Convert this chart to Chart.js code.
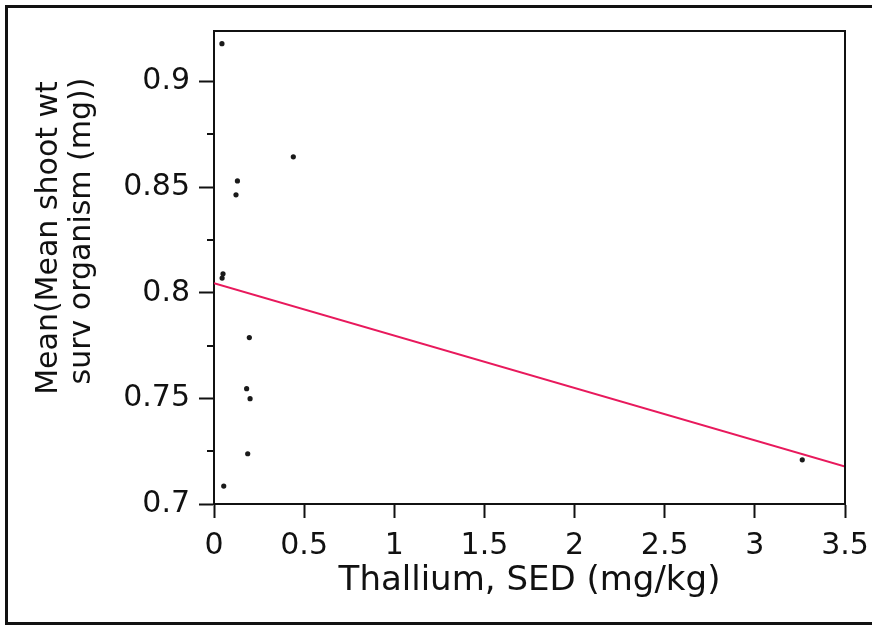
<!DOCTYPE html>
<html>
<head>
<meta charset="utf-8">
<script src="https://cdn.jsdelivr.net/npm/chart.js@4.4.1/dist/chart.umd.min.js"></script>
<style>
  body { margin: 0; background: #fff; }
  #frame { position: absolute; left: 5px; top: 5px; width: 870px; height: 614px;
           border-left: 3px solid #111; border-top: 3px solid #111; border-bottom: 3px solid #111; }
  #wrap { position: absolute; left: 0; top: 0; width: 872px; height: 627px; }
</style>
</head>
<body>
<div id="frame"></div>
<div id="wrap"><canvas id="scatterChart" width="872" height="627"></canvas></div>
<script>
// thallium in sediment vs mean shoot weight
const thallium = [0.044, 0.13, 0.122, 0.44, 0.045, 0.05, 0.196, 0.181, 0.2, 0.187, 0.054, 3.263];
const shootWt  = [0.918, 0.853, 0.8464, 0.8644, 0.807, 0.809, 0.7788, 0.7546, 0.7499, 0.7238, 0.7085, 0.7209];

// fitted line end points
const fitX = [0, 3.5];
const fitY = [0.8046, 0.7177];

const xTicks = [0, 0.5, 1, 1.5, 2, 2.5, 3, 3.5];
const yTicks = [0.7, 0.75, 0.8, 0.85, 0.9];
const yMinorTicks = [0.725, 0.775, 0.825, 0.875];

const yTitle = ['Mean(Mean shoot wt', 'surv organism (mg))'];
const xTitle = 'Thallium, SED (mg/kg)';

var points = [];
for (let i = 0; i < thallium.length; i++) {
    points.push({x: thallium[i], y: shootWt[i]});
}
var fitLine = [];
for (let i = 0; i < fitX.length; i++) {
    fitLine.push({x: fitX[i], y: fitY[i]});
}

const fontFam = '"DejaVu Sans", sans-serif';

// box round the plot, minor y ticks, y title
const extras = {
    id: 'extras',
    afterDraw(chart) {
        const ctx = chart.ctx;
        const a = chart.chartArea;
        const y = chart.scales.y;
        ctx.save();
        ctx.strokeStyle = '#111';
        ctx.lineWidth = 2;
        ctx.beginPath();
        ctx.moveTo(a.left, a.top);
        ctx.lineTo(a.right, a.top);
        ctx.lineTo(a.right, a.bottom);
        ctx.stroke();
        ctx.beginPath();
        yMinorTicks.forEach(v => {
            const py = Math.round(y.getPixelForValue(v));
            ctx.moveTo(a.left - 7, py);
            ctx.lineTo(a.left, py);
        });
        ctx.stroke();

        ctx.fillStyle = '#111';
        ctx.font = '30px ' + fontFam;
        ctx.textAlign = 'center';
        ctx.textBaseline = 'alphabetic';
        ctx.rotate(-Math.PI / 2);
        ctx.fillText(yTitle[0], -238, 57);
        ctx.fillText(yTitle[1], -231, 90);
        ctx.restore();
    }
};

const ctx2 = document.getElementById('scatterChart').getContext('2d');

const myChart = new Chart(ctx2, {
    type: 'scatter',
    data: {
        datasets: [{
            label: 'data',
            data: points,
            backgroundColor: '#1a1a1a',
            borderColor: '#1a1a1a',
            pointRadius: 2.6,
            pointBorderWidth: 0
        }, {
            label: 'fit',
            type: 'line',
            data: fitLine,
            borderColor: '#e8195c',
            borderWidth: 2,
            pointRadius: 0,
            fill: false
        }]
    },
    options: {
        responsive: false,
        animation: false,
        layout: { padding: { left: 0, top: 31, right: 27, bottom: 0 } },
        plugins: {
            legend: { display: false },
            tooltip: { enabled: false }
        },
        scales: {
            x: {
                type: 'linear',
                min: 0,
                max: 3.5,
                afterBuildTicks: s => { s.ticks = xTicks.map(v => ({value: v})); },
                afterFit: s => { s.height = 123; s.paddingLeft = 0; s.paddingRight = 0; },
                ticks: {
                    color: '#111',
                    padding: 10,
                    maxRotation: 0,
                    font: { family: fontFam, size: 30 },
                    callback: v => String(v)
                },
                grid: { drawOnChartArea: false, drawTicks: true, tickLength: 14, tickColor: '#111', tickWidth: 2 },
                border: { display: true, color: '#111', width: 2 },
                title: {
                    display: true,
                    text: xTitle,
                    color: '#111',
                    font: { family: fontFam, size: 34 },
                    padding: { top: 0, bottom: 25 }
                }
            },
            y: {
                type: 'linear',
                min: 0.7,
                max: 0.924,
                afterBuildTicks: s => { s.ticks = yTicks.map(v => ({value: v})); },
                afterFit: s => { s.width = 214; s.paddingTop = 0; s.paddingBottom = 0; },
                ticks: {
                    color: '#111',
                    padding: 9,
                    font: { family: fontFam, size: 30 },
                    callback: v => String(v)
                },
                grid: { drawOnChartArea: false, drawTicks: true, tickLength: 15, tickColor: '#111', tickWidth: 2 },
                border: { display: true, color: '#111', width: 2 }
            }
        }
    },
    plugins: [extras]
});
</script>
</body>
</html>
